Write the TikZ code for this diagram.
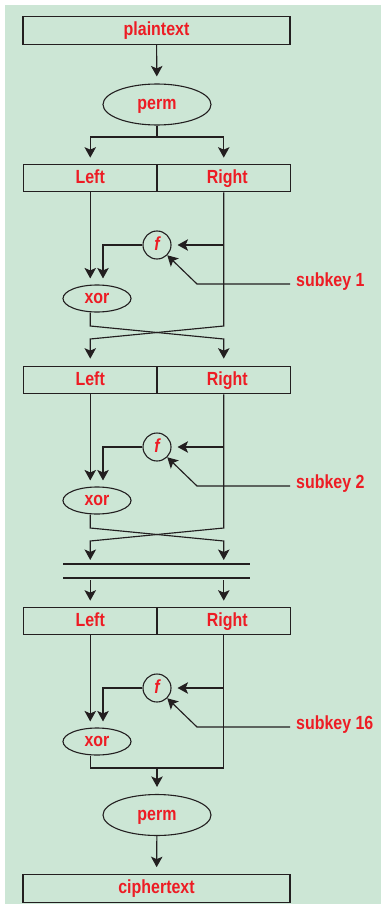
\documentclass[tikz,border=0pt]{standalone}
\usepackage{fontspec}
\setmainfont{Liberation Sans}[FakeStretch=0.84]
\usetikzlibrary{arrows.meta,shapes.geometric,calc}
\definecolor{bg}{HTML}{CCE6D5}
\definecolor{txt}{HTML}{ED1C24}
\definecolor{ink}{HTML}{231F20}
\begin{document}
\begin{tikzpicture}[x=1pt,y=-1pt,
  every node/.style={font=\bfseries\fontsize{19}{22}\selectfont, text=txt, inner sep=0pt,
    text height=14pt, text depth=4pt},
  box/.style={draw=ink, line width=1.2pt, minimum height=27.5pt, minimum width=267pt},
  half/.style={draw=ink, line width=1.2pt, minimum height=27.5pt, minimum width=133.5pt},
  oval/.style={draw=ink, line width=1.1pt, ellipse, minimum width=108pt, minimum height=41pt},
  xoval/.style={draw=ink, line width=1.1pt, ellipse, minimum width=68pt, minimum height=27pt},
  fcirc/.style={draw=ink, line width=1.1pt, circle, minimum size=28pt},
  wire/.style={draw=ink, line width=1.15pt},
  arr/.style={wire, -{Stealth[length=10.5pt,width=11.5pt,inset=2.5pt]}, shorten >=6pt},
]
% canvas
\fill[bg] (5,5) rectangle (381,904);
\useasboundingbox (0,0) rectangle (381,904);

% input and initial permutation
\node[box] (pt) at (156.5,30.5) {plaintext};
\node[oval] (p1) at (157,104.5) {perm};
\draw[arr, shorten >=7pt] (pt) -- (p1);
\coordinate (br) at (157,137);
\draw[wire] (p1.south) -- (br);

% the three rounds shown
\foreach \r/\t/\k in {1/164/1, 2/366/2, 3/607/16} {
  \node[half] (L\r) at (90.25,\t+14) {Left};
  \node[half] (R\r) at (223.75,\t+14) {\hspace{7pt}Right};
  \node[fcirc] (F\r) at (157,\t+81) {\itshape f};
  \node[xoval] (X\r) at (97,\t+134.5) {xor};
  \node[anchor=base west] (S\r) at (296,\t+122) {subkey \k};
  \coordinate (K\r) at (290,\t+120);
  \coordinate (cl\r) at (90.25,\t+162);
  \coordinate (cr\r) at (223.75,\t+162);
  \draw[arr] (L\r.south) -- (L\r.south |- X\r.north);
  \draw[arr] (F\r.west) -| ($(X\r.north)+(6,0)$);
  \draw[arr] (R\r.south |- F\r) -- (F\r.east);
  \draw[arr, shorten >=0pt] (K\r) -- ++(-93,0) -- (F\r.south east);
}
\draw[arr] (br) -| (L1.north);
\draw[arr] (br) -| (R1.north);

% swap after round 1
\draw[arr, shorten >=7pt] (X1.south -| L1.south) -- (cl1) -- ($(cr1)+(0,13)$) -- (R2.north);
\draw[arr, shorten >=7pt] (R1.south) -- (cr1) -- ($(cl1)+(0,13)$) -- (L2.north);

% swap after round 2 and the elided rounds
\coordinate (bar1) at (157,564);
\coordinate (bar2) at (157,578);
\draw[wire] ($(bar1)+(-94,0)$) -- ($(bar1)+(93,0)$);
\draw[wire] ($(bar2)+(-94,0)$) -- ($(bar2)+(93,0)$);
\draw[arr, shorten >=4pt] (X2.south -| L2.south) -- (cl2) -- ($(cr2)+(0,13)$) -- (cr2 |- bar1);
\draw[arr, shorten >=4pt] (R2.south) -- (cr2) -- ($(cl2)+(0,13)$) -- (cl2 |- bar1);
\draw[arr] ($(cl2 |- bar2)+(0,2)$) -- (L3.north);
\draw[arr] ($(cr2 |- bar2)+(0,2)$) -- (R3.north);

% final join, inverse permutation and output
\coordinate (j) at (157,768);
\draw[wire] (X3.south -| L3.south) -- (L3.south |- j) -- (R3.south |- j) -- (R3.south);
\node[oval] (p2) at (157,815) {perm};
\node[box] (ct) at (156.5,888.5) {ciphertext};
\draw[arr, shorten >=7pt] (j) -- (p2);
\draw[arr, shorten >=7pt] (p2) -- (ct);
\end{tikzpicture}
\end{document}
